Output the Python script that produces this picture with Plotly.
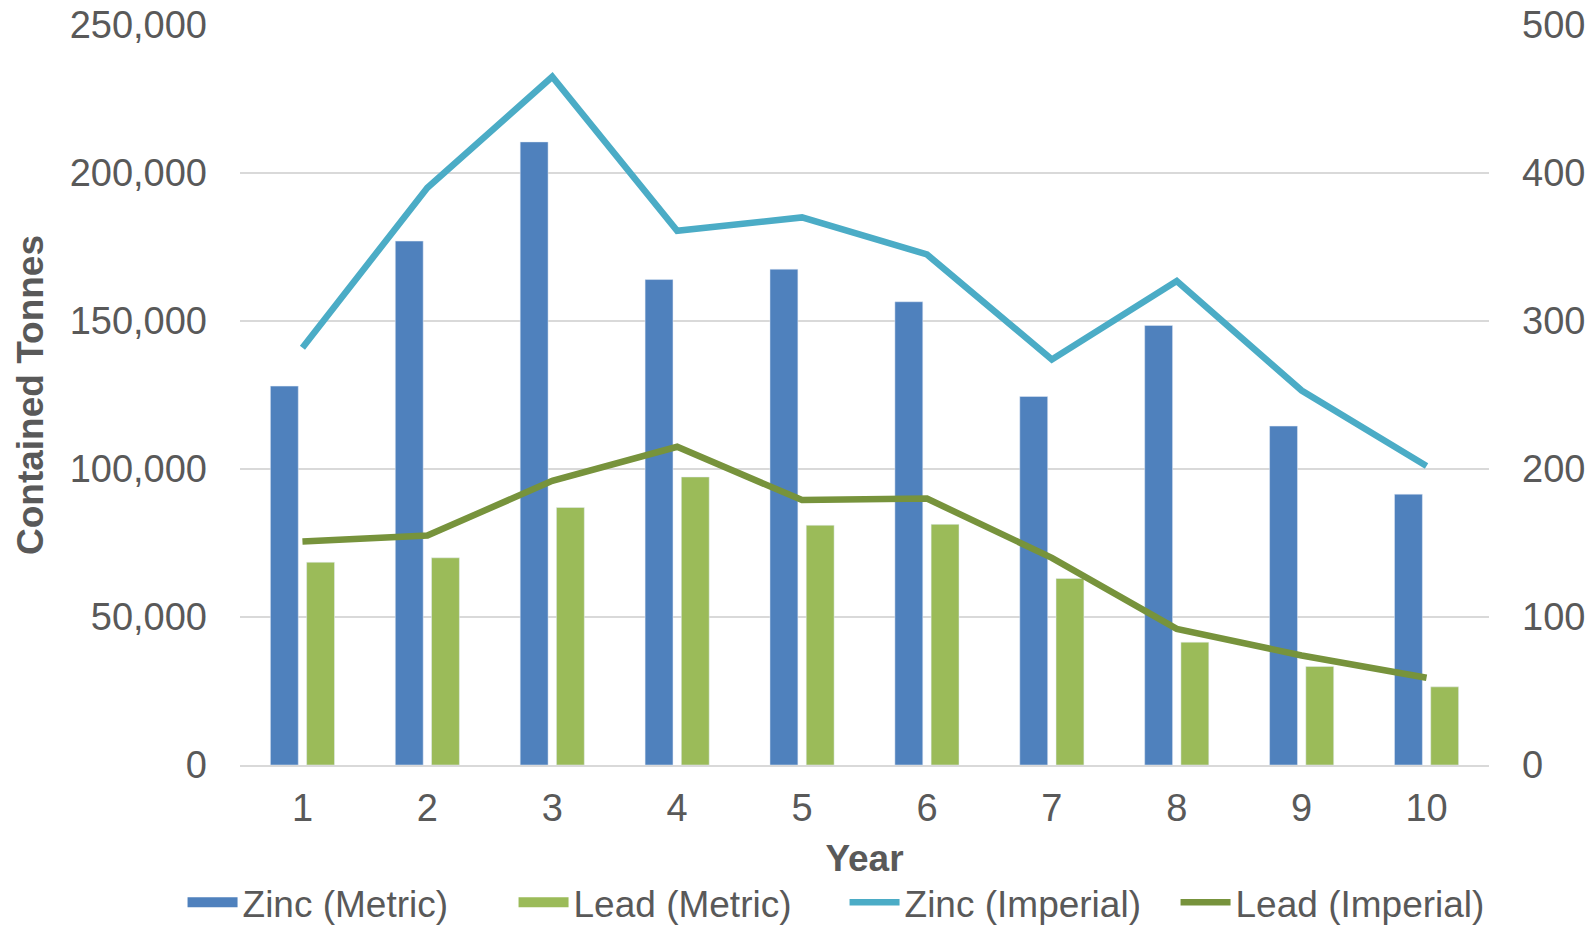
import plotly.graph_objects as go

years = [1, 2, 3, 4, 5, 6, 7, 8, 9, 10]
zinc_metric = [128000, 177000, 210500, 164000, 167500, 156500, 124500, 148500, 114500, 91500]
lead_metric = [68500, 70000, 87000, 97300, 81000, 81300, 63000, 41500, 33300, 26400]
zinc_imperial = [282, 390, 465, 361, 370, 345, 274, 327, 253, 202]
lead_imperial = [151, 155, 192, 215, 179, 180, 140, 92, 74, 59]

FONT = "Liberation Sans, Arial, sans-serif"
GREY = "#595959"
C_ZM, C_LM, C_ZI, C_LI = "#4F81BD", "#9BBB59", "#4BACC6", "#77933C"

fig = go.Figure()
fig.add_trace(go.Bar(x=years, y=zinc_metric, name="Zinc (Metric)", marker_color=C_ZM,
                     showlegend=False, legendgroup="zm"))
fig.add_trace(go.Bar(x=years, y=lead_metric, name="Lead (Metric)", marker_color=C_LM,
                     showlegend=False, legendgroup="lm"))
# legend entries for the bars (wide rectangular swatches)
fig.add_trace(go.Scatter(x=[None], y=[None], mode="lines", name="Zinc (Metric)",
                         line=dict(width=18, color=C_ZM), legendgroup="zm"))
fig.add_trace(go.Scatter(x=[None], y=[None], mode="lines", name="Lead (Metric)",
                         line=dict(width=18, color=C_LM), legendgroup="lm"))
fig.add_trace(go.Scatter(x=years, y=zinc_imperial, name="Zinc (Imperial)", mode="lines",
                         line=dict(color=C_ZI, width=6.5), yaxis="y2"))
fig.add_trace(go.Scatter(x=years, y=lead_imperial, name="Lead (Imperial)", mode="lines",
                         line=dict(color=C_LI, width=6.5), yaxis="y2"))

fig.update_layout(
    width=1587, height=925,
    margin=dict(l=240, r=98, t=25, b=160, autoexpand=False),
    paper_bgcolor="white", plot_bgcolor="white",
    font=dict(family=FONT, size=37, color=GREY),
    barmode="group", bargap=0.42, bargroupgap=0.23,
    showlegend=True,
    legend=dict(orientation="h", x=-0.046, xanchor="left", y=-0.186, yanchor="middle",
                font=dict(size=37, color=GREY), traceorder="normal",
                itemwidth=50, entrywidth=266, entrywidthmode="pixels"),
    xaxis=dict(range=[0.5, 10.5], tickmode="array", tickvals=years,
               ticktext=[str(v) for v in years], showgrid=False, automargin=False,
               showline=True, linecolor="#D9D9D9", linewidth=2,
               ticks="", ticklabelstandoff=8, tickfont=dict(size=38),
               title=dict(text="<b>Year</b>", font=dict(size=37, color=GREY), standoff=18)),
    yaxis=dict(range=[0, 250000], dtick=50000, tickformat=",", showgrid=True,
               gridcolor="#D9D9D9", gridwidth=2, zeroline=False, ticks="", automargin=False,
               ticklabelstandoff=32, tickfont=dict(size=38),
               title=dict(text="<b>Contained Tonnes</b>", font=dict(size=37, color=GREY), standoff=14)),
    yaxis2=dict(range=[0, 500], dtick=100, overlaying="y", side="right", automargin=False,
                showgrid=False, zeroline=False, ticks="", ticklabelstandoff=32,
                tickfont=dict(size=38)),
)

fig.write_html("out.html", config={"displayModeBar": False},
               post_script="document.body.style.margin='0';document.body.style.overflow='hidden';")
